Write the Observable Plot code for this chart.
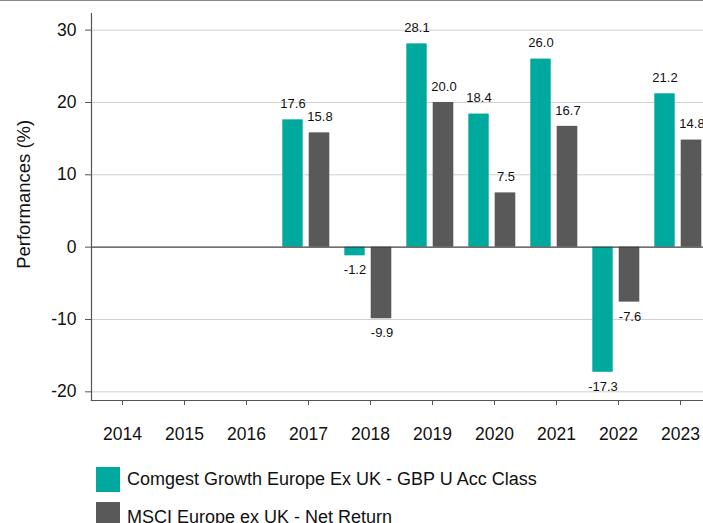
<!DOCTYPE html>
<html><head><meta charset="utf-8">
<script src="https://cdn.jsdelivr.net/npm/d3@7"></script>
<script src="https://cdn.jsdelivr.net/npm/@observablehq/plot@0.6"></script>
<style>
body{margin:0;background:#fff;font-family:"Liberation Sans",Arial,sans-serif;}
#wrap{border-top:1px solid #8a8a8a;width:703px;height:522px;overflow:hidden;}
.legend{margin-left:96px;margin-top:11px;}
.item{display:flex;align-items:center;height:25px;margin-bottom:10px;font-size:18px;color:#111;white-space:nowrap;}
.sw{width:24px;height:25px;margin-right:7px;flex:none;}
.item.second span{position:relative;top:3px;}
</style></head><body><div id="wrap"><div id="chart"></div><div class="legend" id="legend"></div></div>
<script>
const years = ["2014","2015","2016","2017","2018","2019","2020","2021","2022","2023"];
const fundName = "Comgest Growth Europe Ex UK - GBP U Acc Class";
const indexName = "MSCI Europe ex UK - Net Return";
const fund = [null, null, null, 17.6, -1.2, 28.1, 18.4, 26.0, -17.3, 21.2];
const index = [null, null, null, 15.8, -9.9, 20.0, 7.5, 16.7, -7.6, 14.8];
const yTicks = [-20, -10, 0, 10, 20, 30];
const colors = ["#00a99d", "#595959"];

const fundRows = years.map((year, i) => ({year, series: fundName, value: fund[i]})).filter(d => d.value != null);
const indexRows = years.map((year, i) => ({year, series: indexName, value: index[i]})).filter(d => d.value != null);

const H = 455;
const fmt = d => d.value.toFixed(1);
const txt = {fill: "#111", fontSize: 13, textAnchor: "middle"};

const chart = Plot.plot({
  width: 703,
  height: H,
  marginTop: 12,
  marginBottom: H - 399,
  marginLeft: 91,
  marginRight: 0,
  style: {fontFamily: "Liberation Sans, Arial, sans-serif", background: "#fff"},
  x: {domain: years, range: [91, 711], padding: 0, label: null},
  y: {domain: [-21.2, 32.3], label: null},
  marks: [
    Plot.gridY(yTicks.filter(t => t !== 0), {stroke: "#d0d0d0", strokeOpacity: 1, strokeWidth: 1}),
    Plot.barY(fundRows, {x: "year", y: "value", fill: colors[0], insetLeft: 5.3, insetRight: 36.3}),
    Plot.barY(indexRows, {x: "year", y: "value", fill: colors[1], insetLeft: 31.7, insetRight: 9.7}),
    Plot.ruleY([0], {stroke: "#404040", strokeWidth: 1.2}),
    Plot.text(fundRows.filter(d => d.value >= 0), {x: "year", y: "value", text: fmt, dx: -15.5, dy: -16, ...txt}),
    Plot.text(fundRows.filter(d => d.value < 0), {x: "year", y: "value", text: fmt, dx: -15.5, dy: 14.5, ...txt}),
    Plot.text(indexRows.filter(d => d.value >= 0), {x: "year", y: "value", text: fmt, dx: 11.5, dy: -16, ...txt}),
    Plot.text(indexRows.filter(d => d.value < 0), {x: "year", y: "value", text: fmt, dx: 11.5, dy: 14.5, ...txt}),
    Plot.axisY({ticks: yTicks, tickFormat: d => String(d), tickSize: 6, tickPadding: 9, fontSize: 17.5, stroke: "#555", color: "#111", label: null}),
    Plot.axisX({tickSize: 5, tickPadding: 22, fontSize: 17.5, stroke: "#555", color: "#111", label: null}),
    Plot.frame({anchor: "left", stroke: "#555", strokeWidth: 1.2}),
    Plot.frame({anchor: "bottom", stroke: "#555", strokeWidth: 1.2}),
    Plot.text(["Performances (%)"], {frameAnchor: "left", textAnchor: "middle", rotate: -90, dx: -67, dy: -12.7, fontSize: 18.5, fill: "#111"})
  ]
});
document.getElementById("chart").appendChild(chart);

const legend = document.getElementById("legend");
[[fundName, colors[0]], [indexName, colors[1]]].forEach(([name, c], i) => {
  const it = document.createElement("div");
  it.className = "item" + (i === 1 ? " second" : "");
  const sw = document.createElement("div");
  sw.className = "sw";
  sw.style.background = c;
  const t = document.createElement("span");
  t.textContent = name;
  it.appendChild(sw); it.appendChild(t);
  legend.appendChild(it);
});
</script></body></html>
